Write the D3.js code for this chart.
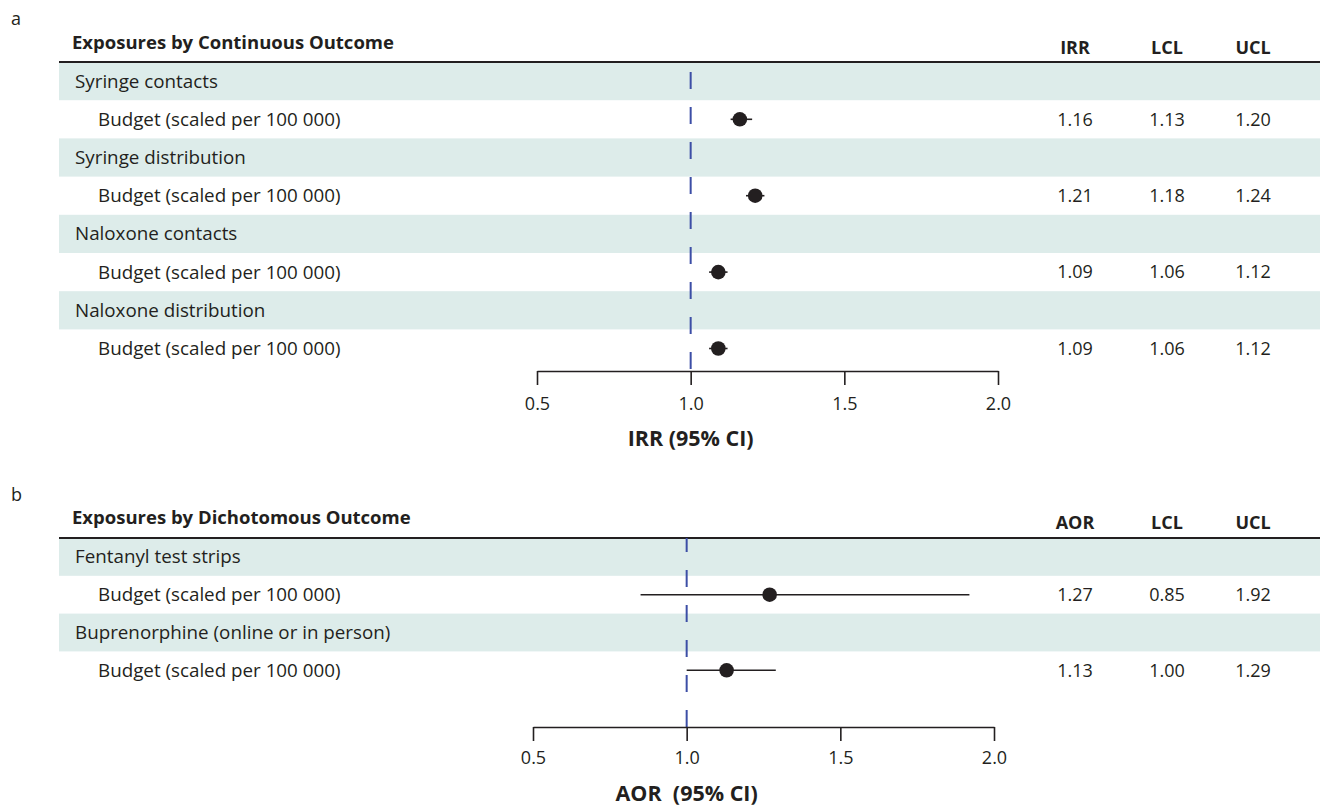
<!DOCTYPE html>
<html>
<head>
<meta charset="utf-8">
<script src="https://cdn.jsdelivr.net/npm/d3@7"></script>
<style>
  body { margin: 0; background: #fff; }
  svg { font-family: "Open Sans", "Noto Sans", sans-serif; }
</style>
</head>
<body>
<script>
// panel a: continuous outcomes (IRR)
let contGroups = ["Syringe contacts", "Syringe distribution", "Naloxone contacts", "Naloxone distribution"];
let contEst = [1.16, 1.21, 1.09, 1.09];
let contLcl = [1.13, 1.18, 1.06, 1.06];
let contUcl = [1.20, 1.24, 1.12, 1.12];

// panel b: dichotomous outcomes (AOR)
let dichGroups = ["Fentanyl test strips", "Buprenorphine (online or in person)"];
let dichEst = [1.27, 1.13];
let dichLcl = [0.85, 1.00];
let dichUcl = [1.92, 1.29];

let exposureLabel = "Budget (scaled per 100 000)";
let xTicks = [0.5, 1.0, 1.5, 2.0];
let refValue = 1.0;

let W = 1326, H = 810;
let ink = "#231f20";
let band = "#ddecea";
let refColor = "#3c4ea6";

let svg = d3.select("body").append("svg")
    .attr("width", W)
    .attr("height", H);

function drawPanel(p) {
    let g = svg.append("g");

    // panel letter
    g.append("text")
        .attr("x", 11).attr("y", p.letterY)
        .attr("dy", "0.35em")
        .style("font-size", "18px")
        .attr("fill", ink)
        .text(p.letter);

    // build rows: group header then exposure row
    let rows = [];
    p.groups.forEach((grp, i) => {
        rows.push({label: grp, kind: "group"});
        rows.push({label: exposureLabel, kind: "item", est: p.est[i], lcl: p.lcl[i], ucl: p.ucl[i]});
    });

    let y = d3.scaleBand()
        .domain(d3.range(rows.length))
        .range([p.top, p.top + p.rowH * rows.length]);

    let x = d3.scaleLinear()
        .domain([0.5, 2.0])
        .range(p.xRange);

    // shaded group bands
    g.selectAll(".band")
        .data(rows.map((r, i) => ({...r, i})).filter(r => r.kind === "group"))
        .join("rect")
        .attr("x", 59)
        .attr("width", 1320 - 59)
        .attr("y", d => y(d.i))
        .attr("height", y.bandwidth())
        .attr("fill", band);

    // header
    g.append("text")
        .attr("x", 72).attr("y", p.headY)
        .attr("dy", "0.35em")
        .style("font-size", "18.5px")
        .style("font-weight", "bold")
        .attr("fill", ink)
        .text(p.header);

    let cols = [p.estName, "LCL", "UCL"];
    let colX = [1075, 1167, 1253];
    g.selectAll(".colhead")
        .data(cols)
        .join("text")
        .attr("x", (d, i) => colX[i])
        .attr("y", p.headY + 5)
        .attr("dy", "0.35em")
        .attr("text-anchor", "middle")
        .style("font-size", "18px")
        .style("font-weight", "bold")
        .attr("fill", ink)
        .text(d => d);

    g.append("line")
        .attr("x1", 59).attr("x2", 1320)
        .attr("y1", p.top).attr("y2", p.top)
        .attr("stroke", ink)
        .attr("stroke-width", 2);

    // row labels
    g.selectAll(".rowlab")
        .data(rows)
        .join("text")
        .attr("x", d => d.kind === "group" ? 75 : 98)
        .attr("y", (d, i) => y(i) + y.bandwidth() / 2)
        .attr("dy", "0.35em")
        .style("font-size", "18.8px")
        .attr("fill", ink)
        .text(d => d.label);

    // table values
    let items = rows.map((r, i) => ({...r, i})).filter(r => r.kind === "item");
    let fmt = d3.format(".2f");
    ["est", "lcl", "ucl"].forEach((k, j) => {
        g.selectAll(".val" + k)
            .data(items)
            .join("text")
            .attr("x", colX[j])
            .attr("y", d => y(d.i) + y.bandwidth() / 2)
            .attr("dy", "0.35em")
            .attr("text-anchor", "middle")
            .style("font-size", "18px")
            .attr("fill", ink)
            .text(d => fmt(d[k]));
    });

    // reference line at 1
    g.append("line")
        .attr("x1", x(refValue)).attr("x2", x(refValue))
        .attr("y1", p.top).attr("y2", p.axisY)
        .attr("stroke", refColor)
        .attr("stroke-width", 2)
        .attr("stroke-dasharray", "17,18")
        .attr("stroke-dashoffset", p.dashOffset);

    // CI lines and points
    g.selectAll(".ci")
        .data(items)
        .join("line")
        .attr("x1", d => x(d.lcl)).attr("x2", d => x(d.ucl))
        .attr("y1", d => y(d.i) + y.bandwidth() / 2)
        .attr("y2", d => y(d.i) + y.bandwidth() / 2)
        .attr("stroke", ink)
        .attr("stroke-width", 1.6);

    g.selectAll(".pt")
        .data(items)
        .join("circle")
        .attr("cx", d => x(d.est))
        .attr("cy", d => y(d.i) + y.bandwidth() / 2)
        .attr("r", 7.3)
        .attr("fill", ink);

    // axis
    let ax = g.append("g")
        .attr("transform", `translate(0,${p.axisY})`)
        .call(d3.axisBottom(x)
            .tickValues(xTicks)
            .tickSize(14)
            .tickSizeOuter(0)
            .tickPadding(p.tickPad)
            .tickFormat(d3.format(".1f")));
    ax.select(".domain").attr("stroke", ink).attr("stroke-width", 1.6);
    ax.selectAll(".tick line").attr("stroke", ink).attr("stroke-width", 1.6);
    ax.selectAll(".tick text")
        .attr("fill", ink)
        .style("font-size", "18px")
        .style("font-family", "Open Sans, sans-serif");

    g.append("text")
        .attr("x", x(refValue))
        .attr("y", p.titleY)
        .attr("dy", "0.35em")
        .attr("text-anchor", "middle")
        .style("font-size", "21.5px")
        .style("font-weight", "bold")
        .style("white-space", "pre")
        .attr("fill", ink)
        .text(p.axisTitle);
}

drawPanel({
    letter: "a", letterY: 19,
    header: "Exposures by Continuous Outcome", headY: 43,
    estName: "IRR",
    groups: contGroups, est: contEst, lcl: contLcl, ucl: contUcl,
    top: 62, rowH: 38.2,
    xRange: [537, 998],
    axisY: 371, tickPad: 12, titleY: 438,
    dashOffset: 25,
    axisTitle: "IRR (95% CI)"
});

drawPanel({
    letter: "b", letterY: 495,
    header: "Exposures by Dichotomous Outcome", headY: 518,
    estName: "AOR",
    groups: dichGroups, est: dichEst, lcl: dichLcl, ucl: dichUcl,
    top: 538, rowH: 37.8,
    xRange: [533, 994],
    axisY: 727, tickPad: 10, titleY: 793,
    dashOffset: 3,
    axisTitle: "AOR  (95% CI)"
});
</script>
</body>
</html>
